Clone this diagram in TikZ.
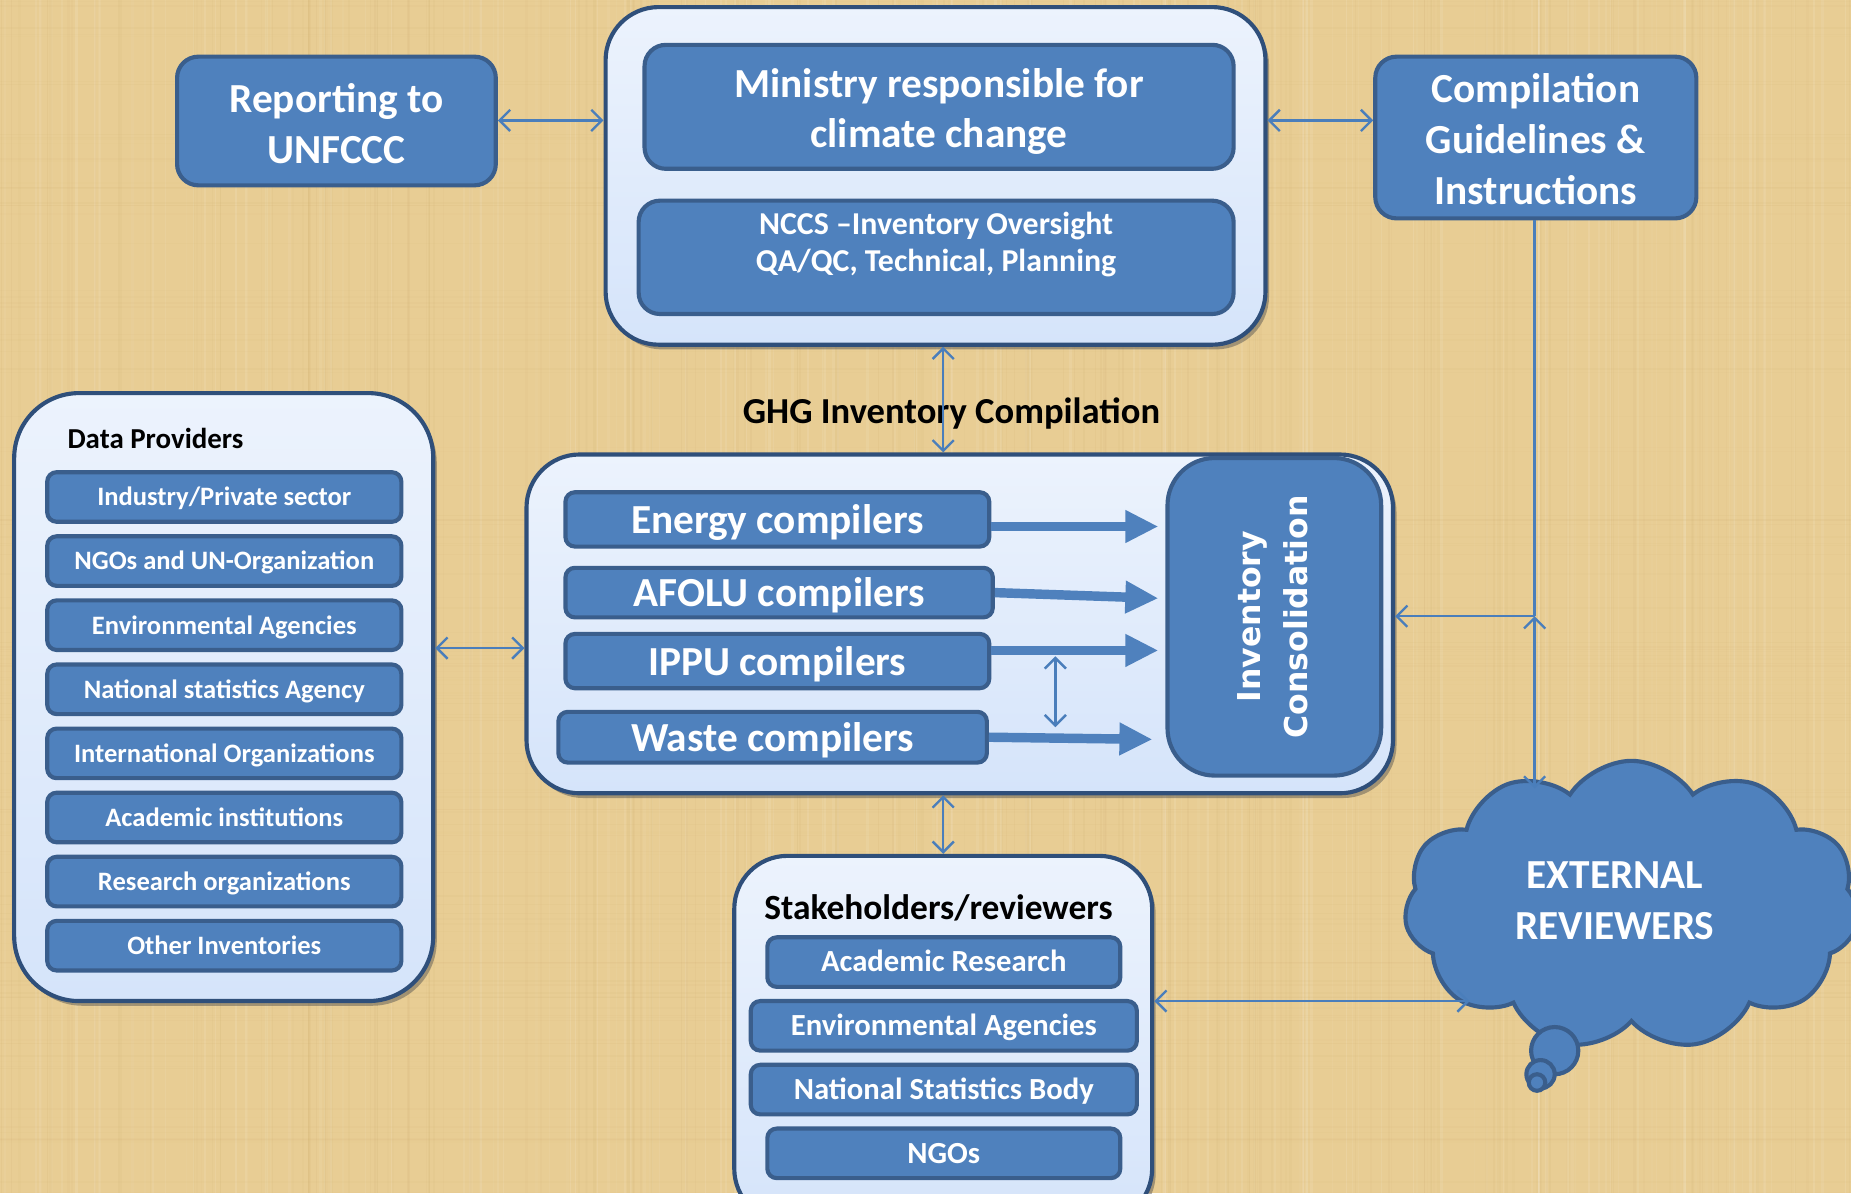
\documentclass[tikz,border=0pt]{standalone}
\usepackage{fontspec}
\setmainfont{Carlito}
\newfontfamily\djv{DejaVu Sans}
\usetikzlibrary{arrows.meta,shapes.symbols,shadows}
\definecolor{bgtan}{HTML}{E8CD94}
\definecolor{bgdark}{HTML}{C9A766}
\definecolor{boxblue}{HTML}{4F81BD}
\definecolor{boxedge}{HTML}{3A5E8C}
\definecolor{lightfill}{HTML}{D5E4FA}
\definecolor{outeredge}{HTML}{2F4F7A}
\definecolor{connblue}{HTML}{4A7EBB}
\newcommand\fsz[2]{\fontsize{#1}{#2}\selectfont\bfseries}
\begin{document}
\begin{tikzpicture}[x=1pt,y=-1pt,
  >={Straight Barb[length=9pt,width=18pt]},
  outerbox/.style={draw=outeredge, line width=3.5pt, rounded corners=45pt,
    top color=lightfill!45!white, bottom color=lightfill,
    drop shadow={shadow xshift=3pt,shadow yshift=-4pt,opacity=0.45,fill=black!70},
    inner sep=0pt},
  bluebox/.style={draw=boxedge, line width=3.5pt, fill=boxblue, rounded corners=12pt,
    text=white, align=center, inner sep=0pt},
  wtext/.style={text=white, align=center, inner sep=0pt},
  cloudstyle/.style={draw=boxedge, line width=3.5pt, fill=boxblue},
  conn/.style={draw=connblue, line width=2pt},
  blockarrow/.style={draw=boxblue, line width=8pt, -{Triangle[length=28pt,width=26pt]}, shorten >=6pt},
  comptext/.style={font=\fsz{35}{40}, text height=31pt, text depth=7pt},
  dptext/.style={font=\fsz{22.5}{27}, text height=19.5pt, text depth=4.5pt},
  shtext/.style={font=\fsz{26}{30}, text height=22pt, text depth=5.5pt}
]
\useasboundingbox (0,0) rectangle (1568,1011);
\clip (0,0) rectangle (1568,1011);
\fill[bgtan] (0,0) rectangle (1568,1011);
% parchment texture
\pgfmathsetseed{17}
\foreach \i in {1,...,320}{
  \pgfmathsetmacro\xx{rnd*1568}
  \pgfmathsetmacro\ww{0.5+rnd*2}
  \pgfmathsetmacro\op{0.03+rnd*0.08}
  \ifodd\i
    \fill[bgdark, opacity=\op] (\xx,0) rectangle (\xx+\ww,1011);
  \else
    \fill[white, opacity=\op] (\xx,0) rectangle (\xx+\ww,1011);
  \fi
}
\foreach \i in {1,...,120}{
  \pgfmathsetmacro\yy{rnd*1011}
  \pgfmathsetmacro\op{0.02+rnd*0.05}
  \fill[bgdark, opacity=\op] (0,\yy) rectangle (1568,\yy+1.2);
}

% top row
\node[bluebox, minimum width=270pt, minimum height=109pt, rounded corners=18pt] (rep) at (285,102.5) {};
\node[wtext, font=\fsz{35}{43}] (reptext) at (285,105) {Reporting to\\UNFCCC};
\node[outerbox, minimum width=559pt, minimum height=286pt] (min) at (792.5,149) {};
\node[bluebox, minimum width=499pt, minimum height=105pt, rounded corners=18pt] (mintop) at (795.5,90.5) {};
\node[wtext, font=\fsz{35}{43}] (mintext) at (795.5,94.5) {Ministry responsible for\\climate change};
\node[bluebox, minimum width=504pt, minimum height=96pt, rounded corners=18pt] (nccs) at (793,218) {};
\node[wtext, font=\fsz{27}{31}] (nccstext) at (793,207) {NCCS –Inventory Oversight\\QA/QC, Technical, Planning};
\node[bluebox, minimum width=272pt, minimum height=137pt, rounded corners=18pt] (gl) at (1301,116.5) {};
\node[wtext, font=\fsz{35}{43}] (gltext) at (1301,118) {Compilation\\Guidelines \&\\Instructions};

\node[font=\fsz{31}{36}, inner sep=0pt] (ghg) at (806,350) {GHG Inventory Compilation};

% compilation box
\node[outerbox, minimum width=734pt, minimum height=287pt] (comp) at (813,528.5) {};
\node[bluebox, minimum width=359pt, minimum height=46pt, rounded corners=8pt, comptext] (energy) at (658.5,440) {Energy compilers};
\node[bluebox, minimum width=362pt, minimum height=42pt, rounded corners=8pt, comptext] (afolu) at (660,502) {AFOLU compilers};
\node[bluebox, minimum width=359pt, minimum height=46pt, rounded corners=8pt, comptext] (ippu) at (658.5,560) {IPPU compilers};
\node[bluebox, minimum width=363pt, minimum height=43pt, rounded corners=8pt, comptext] (waste) at (654.5,624.5) {Waste compilers};
\node[bluebox, minimum width=181pt, minimum height=269pt, rounded corners=40pt] (invc) at (1079.5,522.5)
  {\rotatebox{90}{\djv\bfseries\fontsize{26.7}{40}\selectfont\begin{tabular}{@{}c@{}}Inventory\\Consolidation\end{tabular}}};

% data providers
\node[outerbox, minimum width=355pt, minimum height=515pt, rounded corners=55pt] (dp) at (189.5,590.5) {};
\node[anchor=west, font=\fsz{24.5}{30}, inner sep=0pt] (dptitle) at (57,371) {Data Providers};
\foreach \t [count=\i] in {Industry/Private sector, NGOs and UN-Organization, Environmental Agencies,
  National statistics Agency, International Organizations, Academic institutions,
  Research organizations, Other Inventories}
  \node[bluebox, minimum width=300pt, minimum height=42pt, rounded corners=8pt, dptext]
    (dp\i) at (190,{421+54.3*(\i-1)}) {\t};

% stakeholders
\node[outerbox, minimum width=354pt, minimum height=310pt] (sh) at (799,880) {};
\node[font=\fsz{30}{36}, inner sep=0pt] (shtitle) at (795,769) {Stakeholders/reviewers};
\node[bluebox, minimum width=299pt, minimum height=42pt, rounded corners=8pt, shtext] (ar) at (799.5,815) {Academic Research};
\node[bluebox, minimum width=327pt, minimum height=42pt, rounded corners=8pt, shtext] (ea) at (799.5,869) {Environmental Agencies};
\node[bluebox, minimum width=327pt, minimum height=42pt, rounded corners=8pt, shtext] (nsb) at (799.5,923) {National Statistics Body};
\node[bluebox, minimum width=299pt, minimum height=42pt, rounded corners=8pt, shtext] (ngo) at (799.5,977) {NGOs};

% cloud
\node[cloud, cloud puffs=11, cloud puff arc=115, aspect=1.6, cloudstyle, minimum width=385pt, minimum height=245pt] (cloud) at (1382,767) {};
\draw[cloudstyle] (1317,890) circle[radius=20pt];
\draw[cloudstyle] (1305,910) circle[radius=12pt];
\draw[cloudstyle] (1302,917) circle[radius=7pt];
\node[wtext, font=\fsz{35}{44}] (ext) at (1368,763) {EXTERNAL\\REVIEWERS};

% coordinates for connectors
\coordinate (dpy) at (0,549);
\coordinate (ia) at (894,556);
\coordinate (wa) at (894,616);
\coordinate (jn) at (1300,522);
\coordinate (ct) at (1300,668);
\coordinate (cl) at (1245,848);

% thin connectors
\draw[conn,<->] (rep.east |- 0,102) -- (min.west |- 0,102);
\draw[conn,<->] (min.east |- 0,102) -- (gl.west |- 0,102);
\draw[conn,<->] (min.south -| sh.north) -- (comp.north -| sh.north);
\draw[conn,<->] (comp.south -| sh.north) -- (sh.north);
\draw[conn,<->] (dp.east |- dpy) -- (comp.west |- dpy);
\draw[conn,<->] (ia) -- (wa);
\draw[conn] (gl.south -| jn) -- (jn);
\draw[conn,->] (jn) -- (jn -| comp.east);
\draw[conn,<->] (jn) -- (ct);
\draw[conn,<->] (sh.east |- cl) -- (cl);

% block arrows
\draw[blockarrow] ([yshift=-6pt]energy.east) -- ([yshift=-6pt]energy.east -| invc.west);
\draw[blockarrow] (afolu.east) -- ([yshift=-5pt]afolu.east -| invc.west);
\draw[blockarrow] ([yshift=9pt]ippu.east) -- ([yshift=9pt]ippu.east -| invc.west);
\draw[blockarrow, shorten >=11pt] (waste.east) -- ([yshift=-2pt]waste.east -| invc.west);
\end{tikzpicture}
\end{document}
